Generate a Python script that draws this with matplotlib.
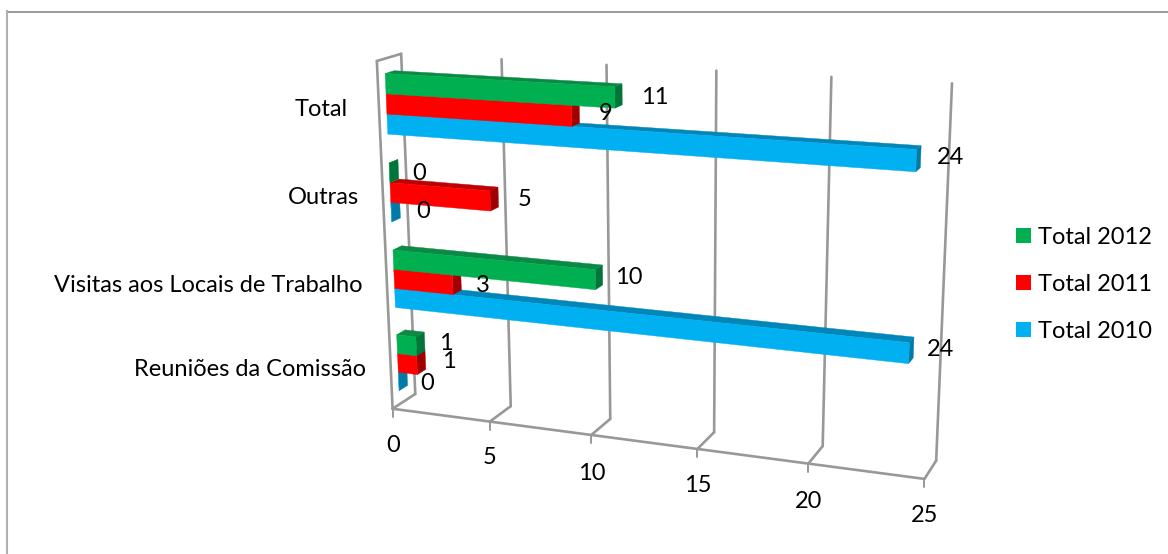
import numpy as np
import matplotlib
matplotlib.use("Agg")
import matplotlib.pyplot as plt
from matplotlib.patches import Polygon, Patch
from matplotlib.lines import Line2D

plt.rcParams['font.family'] = ['Lato', 'DejaVu Sans']

# Data, bottom category first
categories = ["Reuniões da Comissão", "Visitas aos Locais de Trabalho", "Outras", "Total"]
total_2012 = [1, 10, 0, 11]
total_2011 = [1, 3, 5, 9]
total_2010 = [0, 24, 0, 24]
value_ticks = [0, 5, 10, 15, 20, 25]

# Series in painting order (lowest bar in each cluster first)
series = [
    ("Total 2010", total_2010, "#00B0F0", "#0086B8", "#007BA8"),
    ("Total 2011", total_2011, "#FF0000", "#C00000", "#A00000"),
    ("Total 2012", total_2012, "#00B050", "#0A8A44", "#00753A"),
]

W, H = 1168, 554
fig = plt.figure(figsize=(W / 100, H / 100), dpi=100)
ax = fig.add_axes([0, 0, 1, 1])
ax.set_xlim(0, W)
ax.set_ylim(H, 0)
ax.axis("off")

# Camera calibration: box corners (value, height, depth) and where they land on the canvas.
# Height runs 0..4 over the categories, depth 0 (front) .. 1 (back wall).
anchors = [
    (0, 0, 0, 392.7, 409), (5, 0, 0, 490, 421.7), (10, 0, 0, 591, 435),
    (15, 0, 0, 697.7, 449), (20, 0, 0, 808, 463), (25, 0, 0, 924.7, 479),
    (0, 0, 1, 415, 393), (5, 0, 1, 510.7, 406.7), (10, 0, 1, 610.7, 419),
    (15, 0, 1, 714, 432), (20, 0, 1, 822.7, 446.7), (25, 0, 1, 936, 460.7),
    (0, 4, 1, 401, 54), (5, 4, 1, 501.7, 59), (10, 4, 1, 606.7, 65),
    (15, 4, 1, 716.7, 70.7), (20, 4, 1, 831, 76.7), (25, 4, 1, 952, 83),
    (0, 4, 0, 376.7, 61),
]


def fit_camera(points):
    rows, rhs = [], []
    for v, h, d, x, y in points:
        X = [v / 25, h / 4, d, 1]
        rows.append(X + [0, 0, 0, 0] + [-x * c for c in X[:3]])
        rhs.append(x)
        rows.append([0, 0, 0, 0] + X + [-y * c for c in X[:3]])
        rhs.append(y)
    sol = np.linalg.lstsq(np.array(rows), np.array(rhs), rcond=None)[0]
    return np.append(sol, 1.0).reshape(3, 4)


CAM = fit_camera(anchors)


def project(v, h, d):
    p = CAM @ np.array([v / 25, h / 4, d, 1.0])
    return p[0] / p[2], p[1] / p[2]


# Walls, floor and value gridlines
GRID = "#989898"
GRID_W = 1.9


def seg(a, b, lw=GRID_W, z=1):
    ax.add_line(Line2D([a[0], b[0]], [a[1], b[1]], color=GRID, lw=lw, zorder=z,
                       solid_capstyle="round"))


for t in value_ticks:
    front = project(t, 0, 0)
    back = project(t, 0, 1)
    top = project(t, 4, 1)
    seg(top, back)
    seg(back, front)
    seg(front, (front[0], front[1] + 8), lw=1.4)
seg(project(0, 0, 0), project(25, 0, 0))
seg(project(0, 0, 0), project(0, 4, 0))
seg(project(0, 4, 0), project(0, 4, 1))

# 3D bars: clusters of three, centred on each category band
BAR_H = 0.225
D0, D1 = 0.31, 0.68


def draw_bar(value, h0, h1, face, top, side, z):
    side_pts = [project(value, h0, D0), project(value, h1, D0),
                project(value, h1, D1), project(value, h0, D1)]
    top_pts = [project(0, h1, D0), project(value, h1, D0),
               project(value, h1, D1), project(0, h1, D1)]
    front_pts = [project(0, h0, D0), project(value, h0, D0),
                 project(value, h1, D0), project(0, h1, D0)]
    ax.add_patch(Polygon(side_pts, closed=True, fc=side, ec=side, lw=0.3, zorder=z))
    ax.add_patch(Polygon(top_pts, closed=True, fc=top, ec=top, lw=0.3, zorder=z + 0.1))
    ax.add_patch(Polygon(front_pts, closed=True, fc=face, ec=face, lw=0.3, zorder=z + 0.2))


for i in range(len(categories)):
    for j, (name, vals, face, top, side) in enumerate(series):
        h0 = i + 0.5 + (j - 1.5) * BAR_H
        draw_bar(vals[i], h0, h0 + BAR_H, face, top, side, 2 + i + j * 0.3)

FS = 17.0
TXT = "#000000"

# Category labels
cat_pos = [(366, 370), (362, 285), (359, 198), (348, 109)]
for name, (x, y) in zip(categories, cat_pos):
    ax.text(x, y, name, ha="right", va="center", fontsize=FS, color=TXT, zorder=10)

# Value axis labels
tick_pos = [(393, 446), (490, 458), (592, 473), (698, 485), (809, 501), (925, 515)]
for t, (x, y) in zip(value_ticks, tick_pos):
    ax.text(x, y, str(t), ha="center", va="center", fontsize=FS, color=TXT, zorder=10)

# Data labels per series, same order as the categories
label_pos = {
    "Total 2012": [(446, 344), (629, 278), (419, 173), (655, 98)],
    "Total 2011": [(449, 362), (483, 286), (525, 200), (606, 114)],
    "Total 2010": [(427, 383), (940, 349), (423, 212), (950, 157)],
}
for name, vals, *_ in series:
    for v, (x, y) in zip(vals, label_pos[name]):
        ax.text(x, y, str(v), ha="center", va="center", fontsize=FS, color=TXT, zorder=10)

# Legend
fs_px = FS * 100 / 72
handles = [Patch(fc=s[2], ec="none", label=s[0]) for s in reversed(series)]
ax.legend(handles=handles, loc="upper left", bbox_to_anchor=(1016 / W, 1 - 227 / H),
          bbox_transform=fig.transFigure, frameon=False, fontsize=FS,
          handlelength=15 / fs_px, handleheight=15 / fs_px,
          handletextpad=7 / fs_px, labelspacing=1.1, borderaxespad=0, borderpad=0)

# Chart frame: only the top and left edges show
ax.add_line(Line2D([6.5, W], [11.5, 11.5], color="#8a8a8a", lw=1.2, zorder=0))
ax.add_line(Line2D([6.7, 6.7], [11, H], color="#b0b0b0", lw=1.5, zorder=0))

fig.savefig("out.png", dpi=100)
